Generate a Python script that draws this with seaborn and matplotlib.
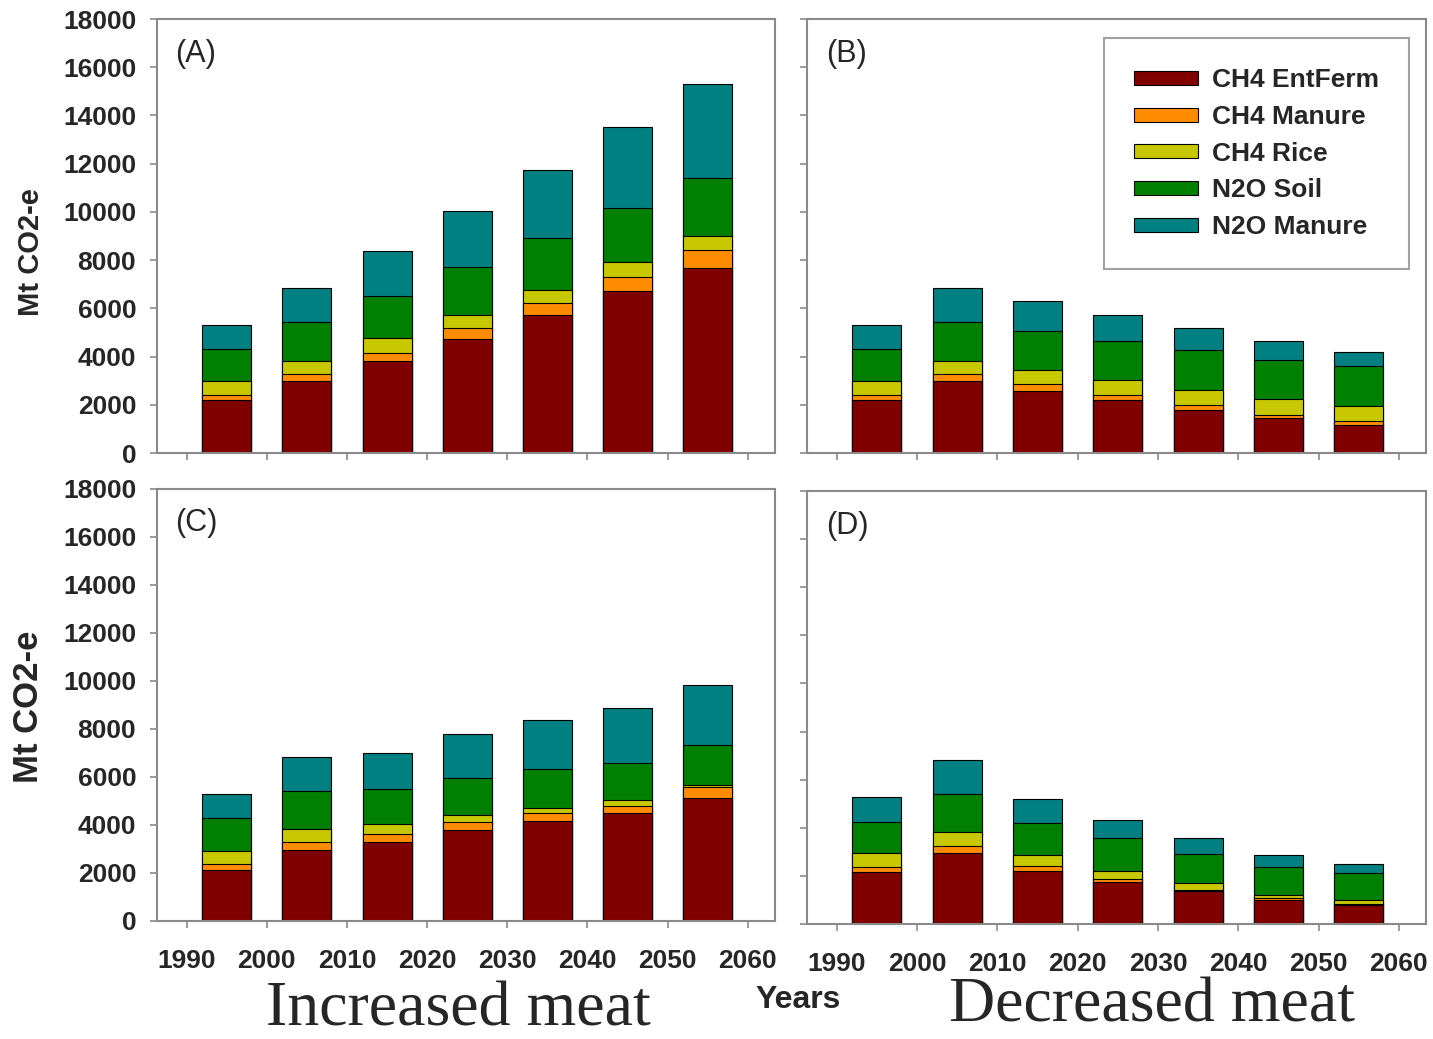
import numpy as np
import pandas as pd
import matplotlib
matplotlib.use("Agg")
import matplotlib.pyplot as plt
from matplotlib.patches import Patch
import seaborn as sns

sns.set_style("ticks")
plt.rcParams['font.family'] = ['Liberation Sans', 'DejaVu Sans']

# ---------------------------------------------------------------
# Data (Mt CO2-e per source)
# ---------------------------------------------------------------
years = [1995, 2005, 2015, 2025, 2035, 2045, 2055]
sources = ['CH4 EntFerm', 'CH4 Manure', 'CH4 Rice', 'N2O Soil', 'N2O Manure']
colors = ['#800000', '#FF8C00', '#C8C800', '#008000', '#008080']

# (A) increased meat
a_entferm = [2190, 2990, 3800, 4720, 5710, 6720, 7690]
a_ch4_manure = [200, 300, 360, 450, 520, 580, 750]
a_rice = [580, 530, 600, 560, 550, 610, 570]
a_soil = [1330, 1620, 1740, 1990, 2140, 2270, 2380]
a_n2o_manure = [1000, 1410, 1880, 2320, 2810, 3350, 3900]

# (B) decreased meat
b_entferm = [2190, 2990, 2570, 2190, 1800, 1450, 1150]
b_ch4_manure = [200, 300, 310, 230, 210, 140, 180]
b_rice = [580, 530, 580, 600, 590, 670, 610]
b_soil = [1330, 1620, 1590, 1630, 1660, 1610, 1660]
b_n2o_manure = [1000, 1410, 1250, 1060, 940, 780, 590]

# (C) increased meat
c_entferm = [2120, 2940, 3290, 3810, 4160, 4480, 5130]
c_ch4_manure = [270, 350, 340, 310, 350, 330, 460]
c_rice = [520, 550, 390, 280, 210, 210, 60]
c_soil = [1360, 1570, 1460, 1560, 1630, 1570, 1670]
c_n2o_manure = [1000, 1430, 1500, 1810, 2040, 2290, 2530]

# (D) decreased meat
d_entferm = [2150, 2960, 2220, 1750, 1360, 1010, 780]
d_ch4_manure = [230, 280, 210, 130, 40, 50, 30]
d_rice = [580, 580, 420, 340, 310, 160, 180]
d_soil = [1280, 1570, 1330, 1340, 1220, 1160, 1140]
d_n2o_manure = [1040, 1420, 1000, 750, 630, 480, 380]

panels = {
    '(A)': [a_entferm, a_ch4_manure, a_rice, a_soil, a_n2o_manure],
    '(B)': [b_entferm, b_ch4_manure, b_rice, b_soil, b_n2o_manure],
    '(C)': [c_entferm, c_ch4_manure, c_rice, c_soil, c_n2o_manure],
    '(D)': [d_entferm, d_ch4_manure, d_rice, d_soil, d_n2o_manure],
}

# axes rectangles in figure fractions
positions = {
    '(A)': [0.1096, 0.5640, 0.4312, 0.4177],
    '(B)': [0.5632, 0.5640, 0.4320, 0.4177],
    '(C)': [0.1096, 0.1136, 0.4312, 0.4158],
    '(D)': [0.5632, 0.1107, 0.4320, 0.4167],
}

fig = plt.figure(figsize=(14.33, 10.39), dpi=100)
spine_col = '#8a8a8a'

axes = {}
for label, layers in panels.items():
    ax = fig.add_axes(positions[label])
    axes[label] = ax
    df = pd.DataFrame(np.array(layers).T, columns=sources)
    cum = df[sources].cumsum(axis=1)
    cum['year'] = years
    # stacked bars: draw the cumulative totals from top layer down
    for src, col in zip(sources[::-1], colors[::-1]):
        sns.barplot(data=cum, x='year', y=src, orient='x', native_scale=True,
                    color=col, saturation=1, width=0.61, errorbar=None,
                    edgecolor='black', linewidth=0.8, ax=ax)

    ax.set_xlim(1986.3, 2063.4)
    ax.set_ylim(0, 18000)
    ax.set_xticks(range(1990, 2061, 10))
    ax.set_yticks(range(0, 18001, 2000))
    ax.set_xlabel('')
    ax.set_ylabel('')
    for sp in ax.spines.values():
        sp.set_visible(True)
        sp.set_color(spine_col)
        sp.set_linewidth(1.5)
    ax.tick_params(axis='both', direction='out', length=5, width=1.2, color=spine_col,
                   labelsize=19)
    ax.tick_params(axis='x', pad=15)
    ax.tick_params(axis='y', pad=10)
    for t in ax.get_xticklabels() + ax.get_yticklabels():
        t.set_fontweight('bold')
    if label in ('(A)', '(B)'):
        ax.tick_params(axis='x', labelbottom=False)
    if label in ('(B)', '(D)'):
        ax.tick_params(axis='y', labelleft=False)
    ax.text(0.03, 0.955, label, transform=ax.transAxes, fontsize=22, va='top', ha='left')

# y labels
for label, ypos, fs in (('(A)', 0.462, 21), ('(C)', 0.4965, 25)):
    ax = axes[label]
    ax.set_ylabel('Mt CO2-e', fontsize=fs, fontweight='bold')
    ax.yaxis.set_label_coords(-0.181, ypos)

# legend in panel B
handles = [Patch(facecolor=c, edgecolor='black', linewidth=0.8) for c in colors]
leg = axes['(B)'].legend(handles, sources, loc='upper right', bbox_to_anchor=(0.973, 0.956),
                         borderaxespad=0, frameon=True, fancybox=False, edgecolor=spine_col,
                         prop={'weight': 'bold', 'size': 19}, handlelength=2.4,
                         handleheight=0.45, labelspacing=0.48, borderpad=1.15,
                         handletextpad=0.55)
leg.get_frame().set_linewidth(1.5)

# bottom annotations
serif = ['Liberation Serif', 'DejaVu Serif']
fig.text(458 / 1433, 1 - 1025 / 1039, 'Increased meat', family=serif, fontsize=46,
         ha='center', va='baseline')
fig.text(1152 / 1433, 1 - 1022 / 1039, 'Decreased meat', family=serif, fontsize=46,
         ha='center', va='baseline')
fig.text(798 / 1433, 1 - 1000 / 1039, 'Years', fontsize=23, fontweight='bold',
         ha='center', va='center')

plt.savefig('out.png', dpi=100, facecolor='white')
plt.close()
